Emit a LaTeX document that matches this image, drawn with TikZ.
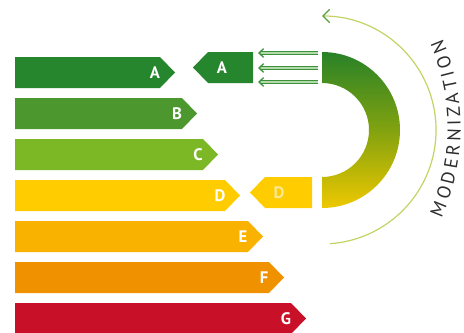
\documentclass[tikz,border=0pt]{standalone}
\usepackage{fontspec}
\setsansfont{PT Sans}
\usetikzlibrary{arrows.meta,decorations.text}
\definecolor{eA}{RGB}{38,134,46}
\definecolor{eB}{RGB}{77,152,46}
\definecolor{eC}{RGB}{124,184,38}
\definecolor{eD}{RGB}{255,204,0}
\definecolor{eE}{RGB}{250,178,0}
\definecolor{eF}{RGB}{240,146,0}
\definecolor{eG}{RGB}{200,16,40}
\definecolor{ringTop}{RGB}{40,130,40}
\definecolor{ringMid}{RGB}{130,162,15}
\definecolor{ringBot}{RGB}{238,200,0}
\definecolor{arrowDark}{RGB}{60,145,60}
\definecolor{arrowLight}{RGB}{180,218,170}
\definecolor{arcLine}{RGB}{195,212,100}
\definecolor{arcTip}{RGB}{90,160,60}
\definecolor{modText}{RGB}{45,45,45}
\definecolor{paleD}{RGB}{255,232,150}
\tikzset{
  barlabel/.style={text=white,font=\sffamily\bfseries\fontsize{12.5}{12.5}\selectfont,inner sep=0pt},
  smallarrow/.style={draw=arrowDark,line width=0.6pt,double=arrowLight,double distance=1.3pt,
     -{Straight Barb[length=3.5pt,width=6.5pt,line width=1pt,color=arrowDark]}},
  curvearrow/.style={draw=arcLine,line width=0.9pt,
     -{Straight Barb[length=5pt,width=10pt,line width=1pt,color=arcTip]}}
}
\newcommand\ebar[4]{%
  \fill[#3] (15,#1) -- (#2-15,#1) -- (#2,#1+15.5) -- (#2-15,#1+31) -- (15,#1+31) -- cycle;
  \node[barlabel] (bar#4) at (#2-20,#1+15.5) {#4};}
\begin{document}
\begin{tikzpicture}[x=0.75pt,y=-0.75pt]
\useasboundingbox (0,0) rectangle (464,332);
\fill[white] (0,0) rectangle (464,332);
% energy bars
\ebar{57}{175}{eA}{A}
\ebar{98}{197}{eB}{B}
\ebar{139}{218}{eC}{C}
\ebar{180}{240}{eD}{D}
\ebar{221}{263}{eE}{E}
\ebar{262}{284}{eF}{F}
\ebar{303}{306}{eG}{G}
% small A box
\fill[eA] (193,67.5) -- (208,52) -- (253,52) -- (253,83) -- (208,83) -- cycle;
\node[barlabel,text=white] (smallA) at (222,67.5) {A};
% small D box
\fill[eD] (250,192.5) -- (265,177) -- (312,177) -- (312,208) -- (265,208) -- cycle;
\node[barlabel,text=paleD] (smallD) at (279,192.5) {D};
% half ring
\shade[top color=ringTop,bottom color=ringBot,middle color=ringMid]
  (322,52) arc[start angle=-90,end angle=90,radius=78] -- (322,177)
  arc[start angle=90,end angle=-90,radius=47] -- cycle;
% three arrows
\coordinate (a1s) at (318,53);  \coordinate (a1e) at (258,53);
\coordinate (a2s) at (318,68);  \coordinate (a2e) at (258,68);
\coordinate (a3s) at (318,82);  \coordinate (a3e) at (258,82);
\draw[smallarrow] (a1s) -- (a1e);
\draw[smallarrow] (a2s) -- (a2e);
\draw[smallarrow] (a3s) -- (a3e);
% curved arrow
\coordinate (cstart) at (330,243.7);
\draw[curvearrow] (cstart) arc[start angle=86,end angle=-90,radius=114];
% text along arc
\begin{scope}
\sffamily\fontsize{14}{15}\selectfont
\coordinate (tstart) at (441.5,218);
\path[decorate,decoration={text along path,text align={fit to path},text color=modText,
  text={MODERNIZATION}}]
  (tstart) arc[start angle=24,end angle=-23.5,radius=222];
\end{scope}
\end{tikzpicture}
\end{document}
